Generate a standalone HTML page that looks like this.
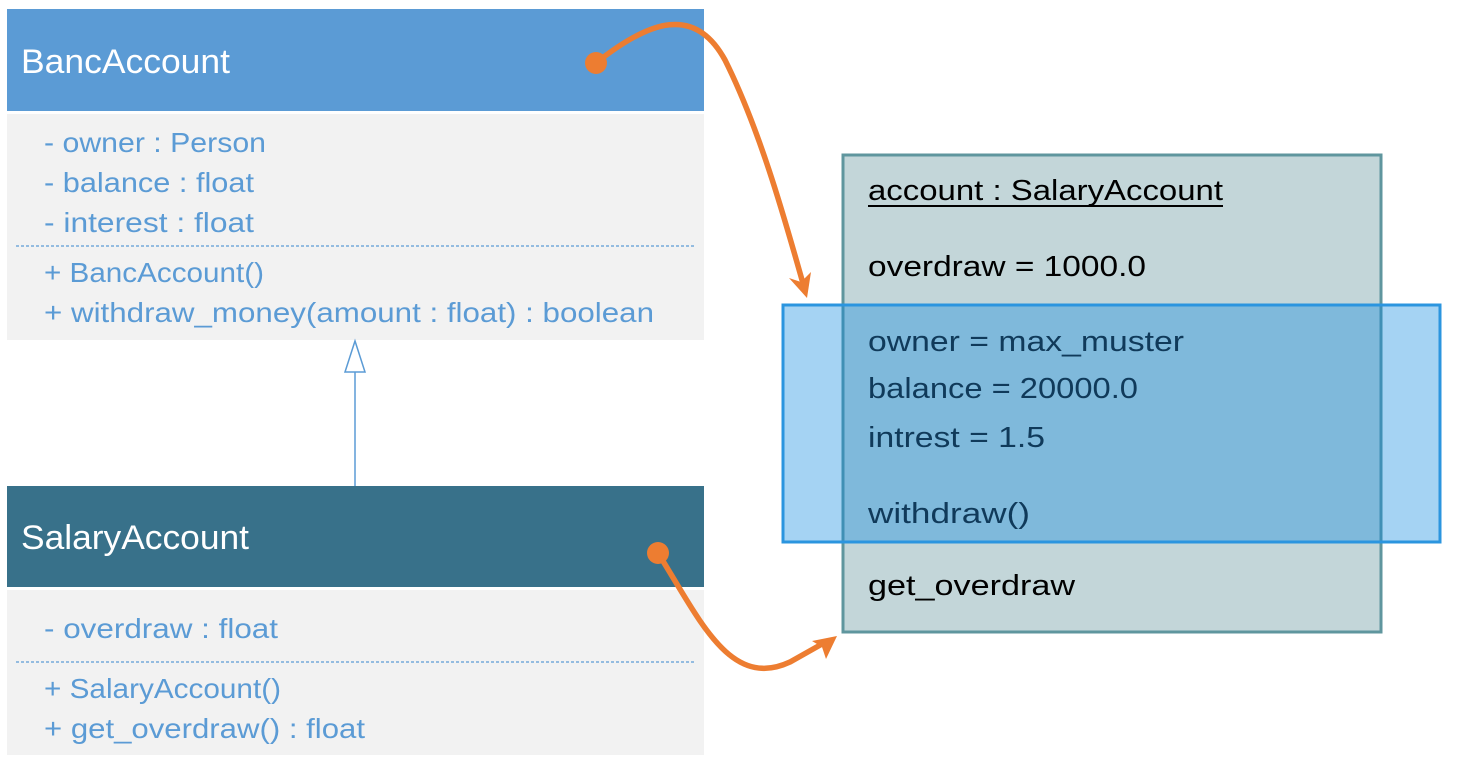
<!DOCTYPE html>
<html><head><meta charset="utf-8"><style>
body{margin:0;background:#fff;width:1459px;height:773px;overflow:hidden}
svg text{font-family:"Liberation Sans",sans-serif}
</style></head><body>
<svg width="1459" height="773" xmlns="http://www.w3.org/2000/svg">
<rect x="7" y="9" width="697" height="102" fill="#5b9bd5"/>
<rect x="7" y="114" width="697" height="226" fill="#f2f2f2"/>
<line x1="16" y1="246" x2="694" y2="246" stroke="#5b9bd5" stroke-width="1.2" stroke-dasharray="3,2"/>
<text x="21" y="73" font-size="34" fill="#fff" textLength="209" lengthAdjust="spacingAndGlyphs">BancAccount</text>
<g font-size="28" fill="#5b9bd5">
<text x="44" y="152" textLength="222" lengthAdjust="spacingAndGlyphs">- owner : Person</text>
<text x="44" y="192" textLength="210" lengthAdjust="spacingAndGlyphs">- balance : float</text>
<text x="44" y="232" textLength="210" lengthAdjust="spacingAndGlyphs">- interest : float</text>
<text x="44" y="282" textLength="220" lengthAdjust="spacingAndGlyphs">+ BancAccount()</text>
<text x="44" y="322" textLength="610" lengthAdjust="spacingAndGlyphs">+ withdraw_money(amount : float) : boolean</text>
</g>
<line x1="355" y1="372" x2="355" y2="486" stroke="#5b9bd5" stroke-width="1.5"/>
<polygon points="355,341 345,372 365,372" fill="#fff" stroke="#5b9bd5" stroke-width="1.5"/>
<rect x="7" y="486" width="697" height="101" fill="#38718a"/>
<rect x="7" y="590" width="697" height="165" fill="#f2f2f2"/>
<line x1="16" y1="662" x2="694" y2="662" stroke="#5b9bd5" stroke-width="1.2" stroke-dasharray="3,2"/>
<text x="21" y="549" font-size="34" fill="#fff" textLength="228" lengthAdjust="spacingAndGlyphs">SalaryAccount</text>
<g font-size="28" fill="#5b9bd5">
<text x="44" y="638" textLength="234" lengthAdjust="spacingAndGlyphs">- overdraw : float</text>
<text x="44" y="698" textLength="237" lengthAdjust="spacingAndGlyphs">+ SalaryAccount()</text>
<text x="44" y="738" textLength="321" lengthAdjust="spacingAndGlyphs">+ get_overdraw() : float</text>
</g>
<rect x="843" y="155" width="538" height="477" fill="#c3d6d9" stroke="#5f969e" stroke-width="3"/>
<rect x="783" y="305" width="657" height="237" fill="rgb(10,135,222)" fill-opacity="0.37" stroke="#2b95df" stroke-width="3"/>
<g font-size="29" fill="#000">
<text x="868" y="200" textLength="355" lengthAdjust="spacingAndGlyphs">account : SalaryAccount</text>
<line x1="868" y1="206" x2="1223" y2="206" stroke="#000" stroke-width="2"/>
<text x="868" y="276" textLength="278" lengthAdjust="spacingAndGlyphs">overdraw = 1000.0</text>
<text x="868" y="595" textLength="207" lengthAdjust="spacingAndGlyphs">get_overdraw</text>
</g>
<g font-size="29" fill="#103a5a">
<text x="868" y="351" textLength="316" lengthAdjust="spacingAndGlyphs">owner = max_muster</text>
<text x="868" y="398" textLength="270" lengthAdjust="spacingAndGlyphs">balance = 20000.0</text>
<text x="868" y="447" textLength="177" lengthAdjust="spacingAndGlyphs">intrest = 1.5</text>
<text x="868" y="523" textLength="162" lengthAdjust="spacingAndGlyphs">withdraw()</text>
</g>
<g fill="none" stroke="#ed7d31" stroke-width="5.5" stroke-linecap="round">
<path d="M596,63 C650,20 695,5 725,60 C760,130 785,220 802,280"/>
<path d="M658,553 C700,620 730,690 790,662 L822,644"/>
</g>
<g fill="#ed7d31">
<circle cx="596" cy="63" r="11"/>
<circle cx="658" cy="553" r="11"/>
<polygon points="807,298 789,278 801,282 811,272"/>
<polygon points="837,636 812,641 822,647 826,659"/>
</g>
</svg>
</body></html>
